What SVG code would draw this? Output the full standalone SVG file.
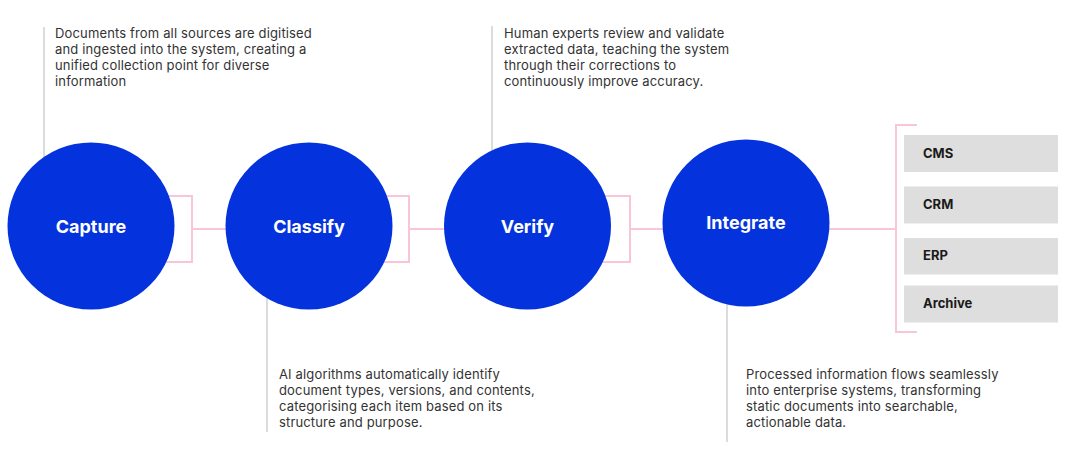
<svg xmlns="http://www.w3.org/2000/svg" width="1080" height="471" viewBox="0 0 1080 471">
<style>
.bg{fill:#ffffff}
.lead{stroke:#dcdcdc;stroke-width:2;fill:none}
.conn{stroke:#f8c6d8;stroke-width:2;fill:none}
.circ{fill:#0433dd}
.lbl{font-family:Inter,"Liberation Sans",sans-serif;font-weight:700;font-size:18px;fill:#ffffff;text-anchor:middle}
.desc{font-family:Inter,"Liberation Sans",sans-serif;font-size:13px;letter-spacing:0.15px;fill:#333333}
.box{fill:#dedede}
.blbl{font-family:Inter,"Liberation Sans",sans-serif;font-weight:700;font-size:13px;fill:#1a1a1a}
</style>
<rect class="bg" width="1080" height="471"/>
<g id="leaders">
<line class="lead" x1="44" y1="27" x2="44" y2="200"/>
<line class="lead" x1="492" y1="26" x2="492" y2="200"/>
<line class="lead" x1="267" y1="260" x2="267" y2="432"/>
<line class="lead" x1="727" y1="260" x2="727" y2="442"/>
</g>
<g id="connectors">
<path class="conn" d="M150,196 H192 V262 H150 M192,229 H260"/>
<path class="conn" d="M370,196 H409 V262 H370 M409,229 H480"/>
<path class="conn" d="M590,196 H630 V262 H590 M630,229 H700"/>
<path class="conn" d="M800,229 H896 M917,125 H896 V332 H917"/>
</g>
<g id="capture">
<circle class="circ" cx="91" cy="226" r="83.5"/>
<text class="lbl" x="91" y="232.5">Capture</text>
</g>
<g id="classify">
<circle class="circ" cx="309" cy="226" r="83.5"/>
<text class="lbl" x="309" y="232.5">Classify</text>
</g>
<g id="verify">
<circle class="circ" cx="527.5" cy="226" r="83.5"/>
<text class="lbl" x="527.5" y="232.5">Verify</text>
</g>
<g id="integrate">
<circle class="circ" cx="746" cy="223" r="83.5"/>
<text class="lbl" x="746" y="229">Integrate</text>
</g>
<g id="desc-capture">
<text class="desc" x="55" y="37.5">Documents from all sources are digitised</text>
<text class="desc" x="55" y="53.5">and ingested into the system, creating a</text>
<text class="desc" x="55" y="69.5">unified collection point for diverse</text>
<text class="desc" x="55" y="85.5">information</text>
</g>
<g id="desc-verify">
<text class="desc" x="504" y="37.5">Human experts review and validate</text>
<text class="desc" x="504" y="53.5">extracted data, teaching the system</text>
<text class="desc" x="504" y="69.5">through their corrections to</text>
<text class="desc" x="504" y="85.5">continuously improve accuracy.</text>
</g>
<g id="desc-classify">
<text class="desc" x="279" y="379">AI algorithms automatically identify</text>
<text class="desc" x="279" y="395">document types, versions, and contents,</text>
<text class="desc" x="279" y="411">categorising each item based on its</text>
<text class="desc" x="279" y="427">structure and purpose.</text>
</g>
<g id="desc-integrate">
<text class="desc" x="746" y="379">Processed information flows seamlessly</text>
<text class="desc" x="746" y="395">into enterprise systems, transforming</text>
<text class="desc" x="746" y="411">static documents into searchable,</text>
<text class="desc" x="746" y="427">actionable data.</text>
</g>
<g id="cms">
<rect class="box" x="904" y="135" width="154" height="37"/>
<text class="blbl" x="923" y="157.5">CMS</text>
</g>
<g id="crm">
<rect class="box" x="904" y="186.5" width="154" height="37"/>
<text class="blbl" x="923" y="208.5">CRM</text>
</g>
<g id="erp">
<rect class="box" x="904" y="238" width="154" height="36.5"/>
<text class="blbl" x="923" y="260">ERP</text>
</g>
<g id="archive">
<rect class="box" x="904" y="285.5" width="154" height="37"/>
<text class="blbl" x="923" y="307.5">Archive</text>
</g>
</svg>
